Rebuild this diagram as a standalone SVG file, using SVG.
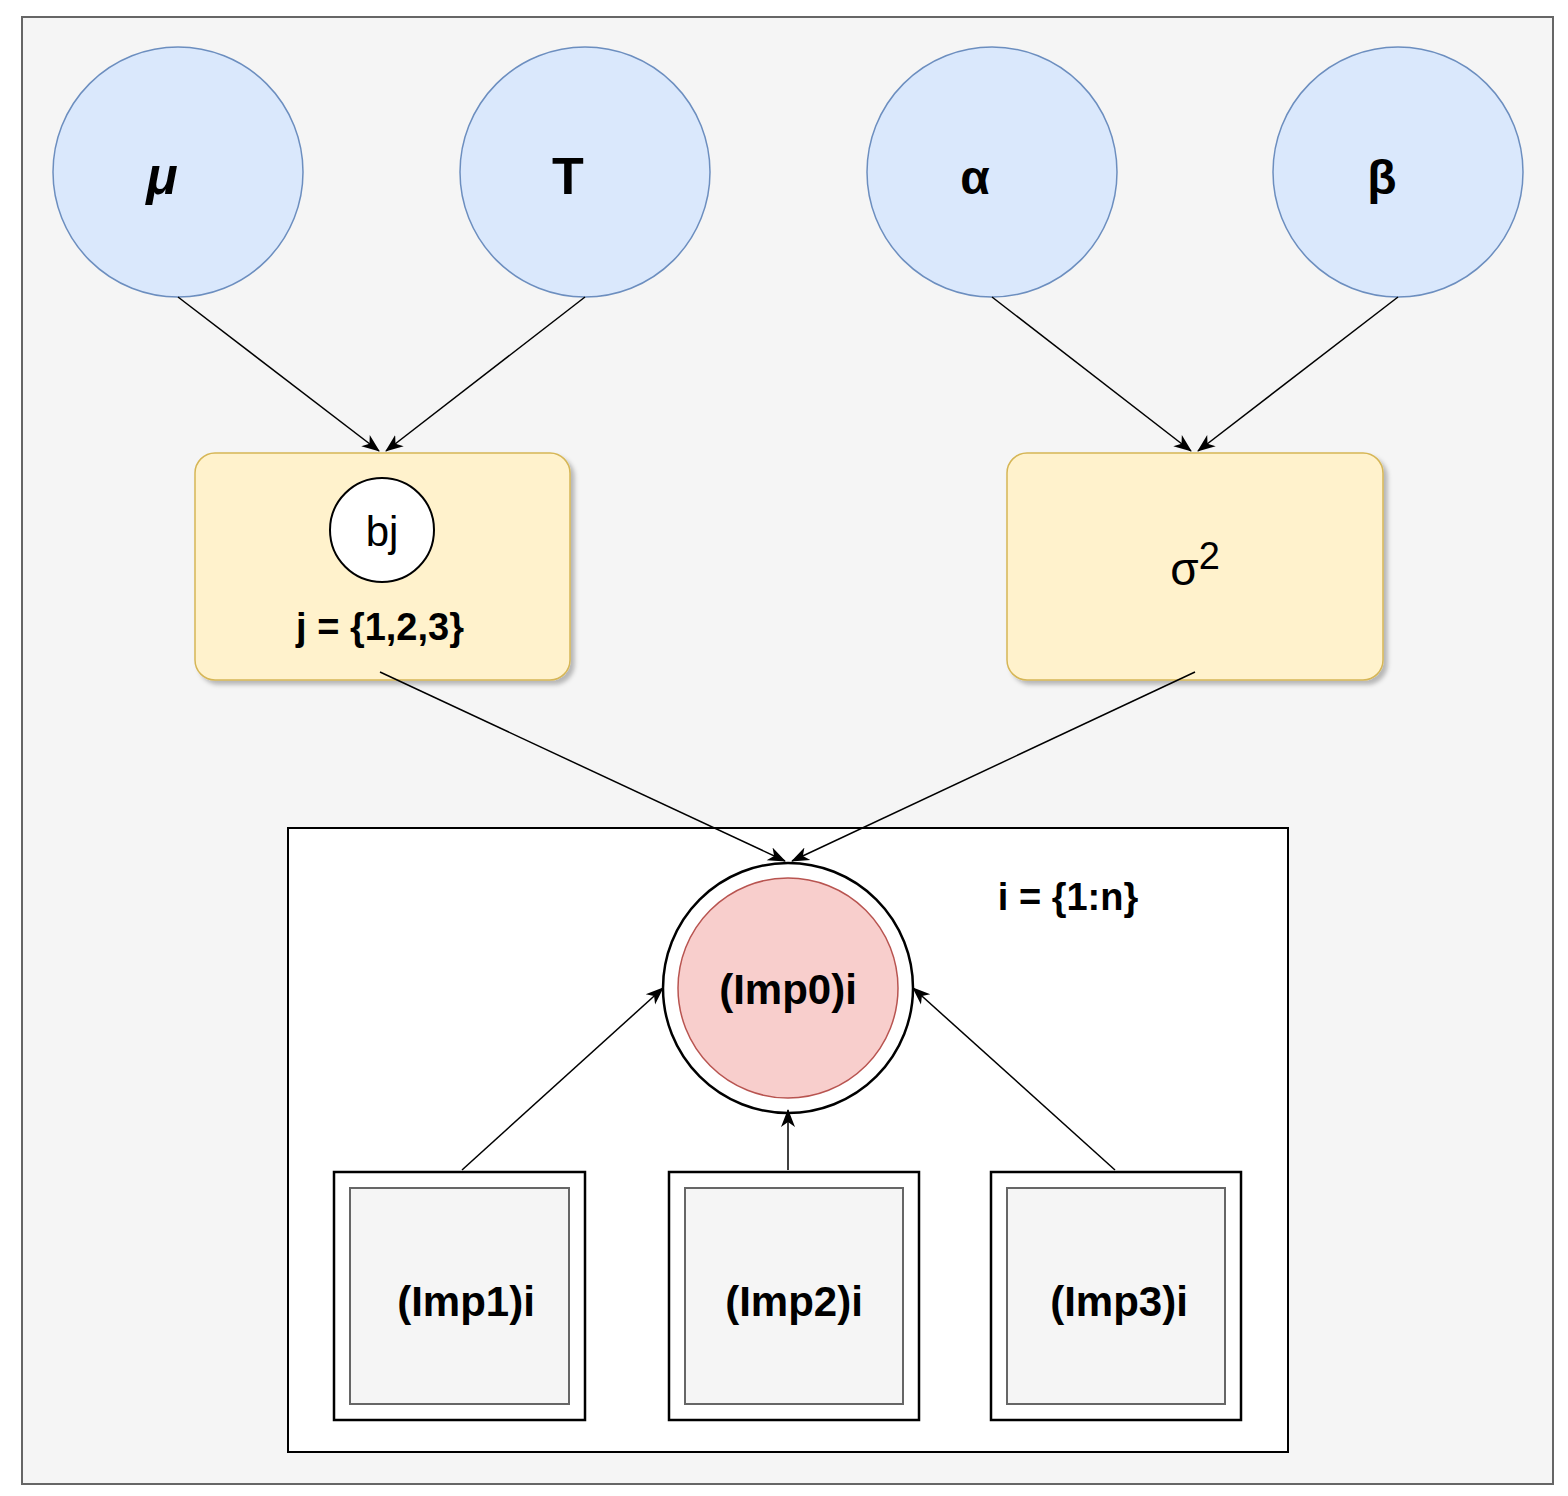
<svg xmlns="http://www.w3.org/2000/svg" width="1568" height="1496" viewBox="0 0 1568 1496">
<style>
text{font-family:"Liberation Sans",Arial,sans-serif;font-weight:bold;fill:#000;text-anchor:middle}
text.n{font-weight:normal}
.top{fill:#dae8fc;stroke:#6c8ebf;stroke-width:1.5}
.yb{fill:#fff2cc;stroke:#d6b656;stroke-width:1.5}
.c{stroke:#000;stroke-width:1.5;fill:none;marker-end:url(#a)}
.ob{fill:#fff;stroke:#000;stroke-width:2.5}
.ib{fill:#f5f5f5;stroke:#666;stroke-width:2}
</style>
<defs>
<marker id="a" markerWidth="18" markerHeight="18" refX="17" refY="9" orient="auto" markerUnits="userSpaceOnUse" viewBox="0 0 18 18"><path d="M0,2 L18,9 L0,16 L5,9 Z" fill="#000"/></marker>
<filter id="sh"><feDropShadow dx="4" dy="4" stdDeviation="2" flood-color="#000" flood-opacity="0.25"/></filter>
</defs>
<rect x="0" y="0" width="1568" height="1496" fill="#fff"/>
<rect x="22" y="17" width="1531" height="1467" fill="#f5f5f5" stroke="#666" stroke-width="2"/>
<g id="mu"><circle class="top" cx="178" cy="172" r="125"/><text x="162" y="194" font-size="52" font-style="italic">μ</text></g>
<g id="tau"><circle class="top" cx="585" cy="172" r="125"/><text x="568" y="194" font-size="52">T</text></g>
<g id="alpha"><circle class="top" cx="992" cy="172" r="125"/><text x="975" y="194" font-size="48">α</text></g>
<g id="beta"><circle class="top" cx="1398" cy="172" r="125"/><text x="1382" y="194" font-size="48">β</text></g>
<g id="bj"><rect class="yb" x="195" y="453" width="375" height="227" rx="20" filter="url(#sh)"/><circle cx="382" cy="530" r="52" fill="#fff" stroke="#000" stroke-width="2"/><text class="n" x="382" y="546" font-size="42">bj</text><text x="380" y="640" font-size="38">j = {1,2,3}</text></g>
<g id="sigma"><rect class="yb" x="1007" y="453" width="376" height="227" rx="20" filter="url(#sh)"/><text class="n" x="1195" y="585" font-size="46">σ<tspan font-size="38" dy="-16">2</tspan></text></g>
<g id="plate"><rect x="288" y="828" width="1000" height="624" fill="#fff" stroke="#000" stroke-width="2"/><text x="1068" y="910" font-size="38">i = {1:n}</text></g>
<g id="imp0"><circle cx="788" cy="988" r="125" fill="#fff" stroke="#000" stroke-width="2.5"/><circle cx="788" cy="988" r="110" fill="#f8cecc" stroke="#b85450" stroke-width="1.5"/><text x="788" y="1004" font-size="42">(Imp0)i</text></g>
<g id="imp1"><rect class="ob" x="334" y="1172" width="251" height="248"/><rect class="ib" x="350" y="1188" width="219" height="216"/><text x="466" y="1316" font-size="42">(Imp1)i</text></g>
<g id="imp2"><rect class="ob" x="669" y="1172" width="250" height="248"/><rect class="ib" x="685" y="1188" width="218" height="216"/><text x="794" y="1316" font-size="42">(Imp2)i</text></g>
<g id="imp3"><rect class="ob" x="991" y="1172" width="250" height="248"/><rect class="ib" x="1007" y="1188" width="218" height="216"/><text x="1119" y="1316" font-size="42">(Imp3)i</text></g>
<g id="connectors">
<path class="c" d="M178,297 L379,451"/>
<path class="c" d="M585,297 L386,451"/>
<path class="c" d="M992,297 L1191,451"/>
<path class="c" d="M1398,297 L1198,451"/>
<path class="c" d="M380,672 L785,861"/>
<path class="c" d="M1195,672 L792,861"/>
<path class="c" d="M462,1170 L663,988"/>
<path class="c" d="M788,1170 L788,1110"/>
<path class="c" d="M1115,1170 L913,988"/>
</g>
</svg>
